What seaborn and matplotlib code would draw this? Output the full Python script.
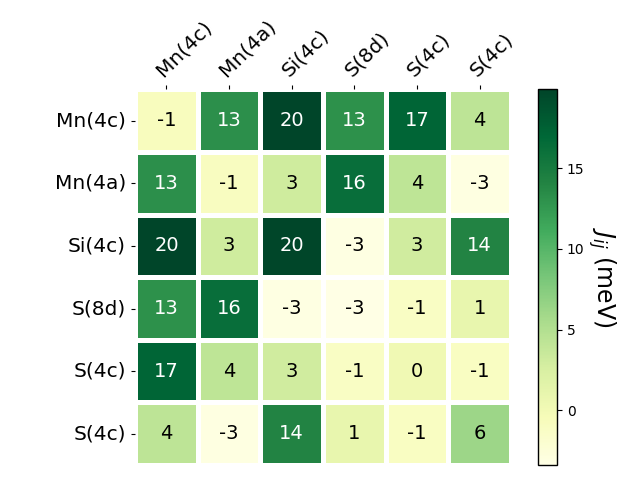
import numpy as np
import pandas as pd
import matplotlib
matplotlib.use("Agg")
import matplotlib.pyplot as plt
import seaborn as sns

# Sites (row/column labels)
sites = ["Mn(4c)", "Mn(4a)", "Si(4c)", "S(8d)", "S(4c)", "S(4c)"]

# Exchange couplings J_ij (meV)
row_mn4c = [-0.8, 13.2, 19.9, 13.1, 17.2, 4.3]
row_mn4a = [13.2, -0.9, 3.1, 16.3, 4.2, -3.1]
row_si4c = [19.9, 3.1, 19.8, -3.2, 3.0, 14.1]
row_s8d = [13.1, 16.3, -3.2, -3.4, -1.2, 1.0]
row_s4c_1 = [17.2, 4.2, 3.0, -1.2, 0.2, -1.1]
row_s4c_2 = [4.3, -3.1, 14.1, 1.0, -1.1, 6.2]

J = np.array([row_mn4c, row_mn4a, row_si4c, row_s8d, row_s4c_1, row_s4c_2])

fig = plt.figure(figsize=(6.4, 4.8), dpi=100)
ax = fig.add_axes([0.211, 0.031, 0.5875, 0.783])
cax = fig.add_axes([0.8406, 0.031, 0.0297, 0.783])

hm = sns.heatmap(J, ax=ax, cbar_ax=cax, cmap="YlGn", annot=True, fmt=".0f",
                 annot_kws={"size": 14}, linewidths=2.5, linecolor="white",
                 square=True, xticklabels=sites, yticklabels=sites)

# light cells: plain black text instead of seaborn's dark grey
for t in ax.texts:
    if t.get_color() != "w":
        t.set_color("black")

ax.xaxis.tick_top()
ax.tick_params(axis="both", labelsize=14.5, length=3)
plt.setp(ax.get_xticklabels(), rotation=45, ha="left", rotation_mode="anchor")
plt.setp(ax.get_yticklabels(), rotation=0)

cbar = hm.collections[0].colorbar
cbar.outline.set_visible(True)
cbar.outline.set_edgecolor("black")
cbar.outline.set_linewidth(1)
cbar.set_label("$J_{ij}$ (meV)", rotation=270, labelpad=24, fontsize=17)
cbar.ax.tick_params(labelsize=10)

fig.savefig("out.png", dpi=100)
